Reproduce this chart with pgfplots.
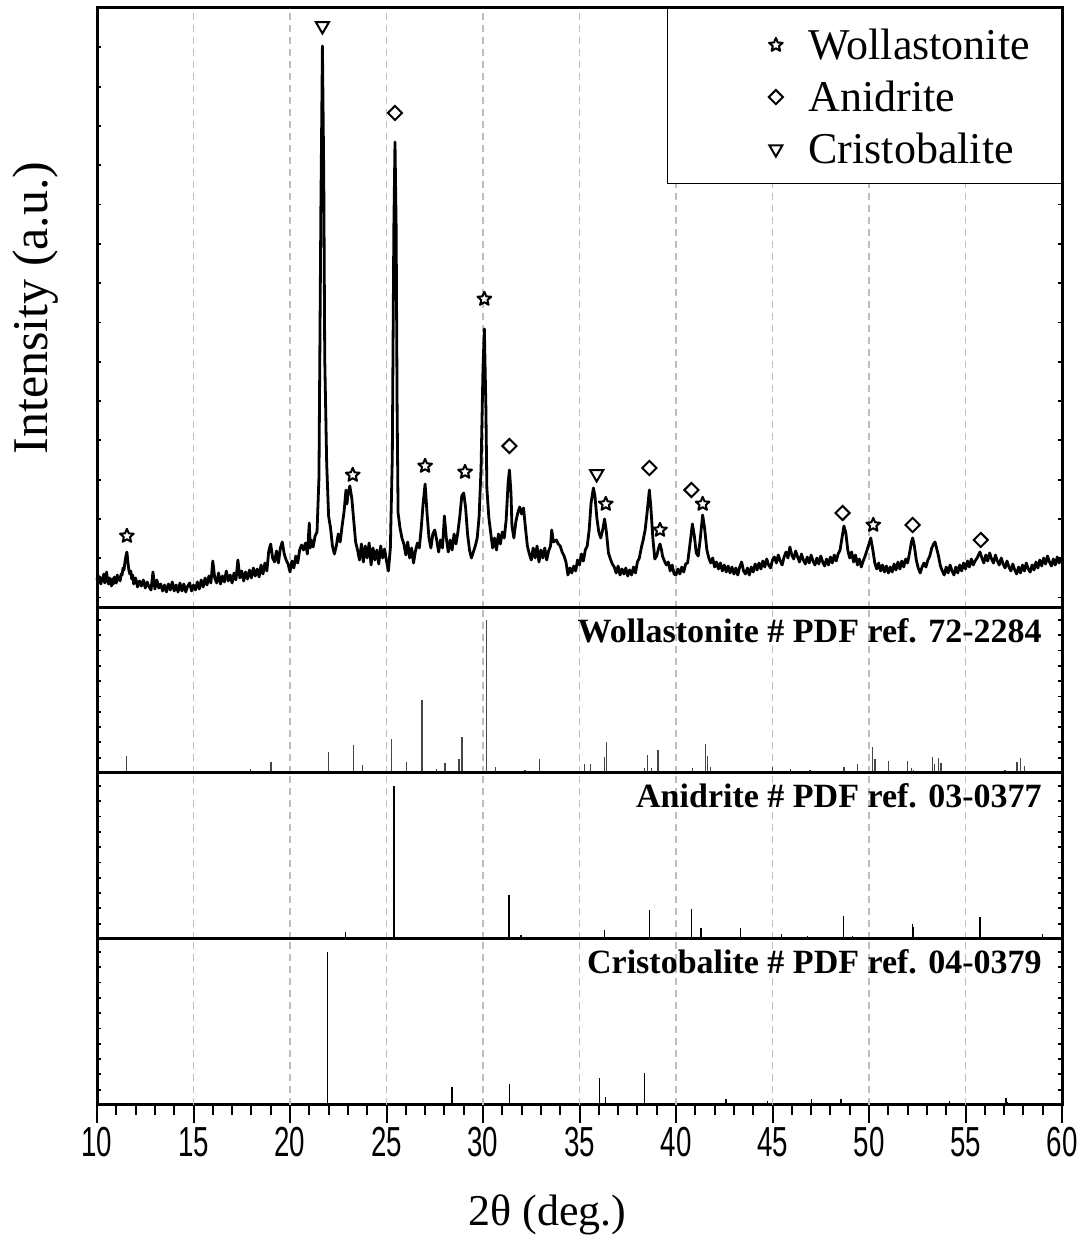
\documentclass[border=0pt]{standalone}
\usepackage{pgfplots}
\pgfplotsset{compat=1.18}
\usepackage{fontspec}
\setmainfont{Liberation Serif}
\newfontfamily\arialfont{Liberation Sans}
\usetikzlibrary{plotmarks}
\usepackage{graphicx}
\definecolor{gridgray}{RGB}{190,190,190}
\definecolor{stickgray}{RGB}{70,70,70}
\tikzset{lab/.style={anchor=north east, inner sep=0pt, font=\bfseries\fontsize{17}{20}\selectfont}}
\pgfdeclareplotmark{ostar}{%
  \pgfpathmoveto{\pgfpointpolar{90}{\pgfplotmarksize}}%
  \pgfpathlineto{\pgfpointpolar{126}{0.45\pgfplotmarksize}}%
  \pgfpathlineto{\pgfpointpolar{162}{\pgfplotmarksize}}%
  \pgfpathlineto{\pgfpointpolar{198}{0.45\pgfplotmarksize}}%
  \pgfpathlineto{\pgfpointpolar{234}{\pgfplotmarksize}}%
  \pgfpathlineto{\pgfpointpolar{270}{0.45\pgfplotmarksize}}%
  \pgfpathlineto{\pgfpointpolar{306}{\pgfplotmarksize}}%
  \pgfpathlineto{\pgfpointpolar{342}{0.45\pgfplotmarksize}}%
  \pgfpathlineto{\pgfpointpolar{18}{\pgfplotmarksize}}%
  \pgfpathlineto{\pgfpointpolar{54}{0.45\pgfplotmarksize}}%
  \pgfpathclose
  \pgfusepathqfillstroke
}

\begin{document}
\begin{tikzpicture}
\useasboundingbox (0,0) rectangle (542.5pt,620.5pt);
\pgfplotsset{
  panel/.style={
    scale only axis, width=482.5pt, xmin=10, xmax=60,
    anchor=south west,
    axis line style={line width=1.5pt, black},
    xtick=\empty,
    extra x ticks={15,20,25,30,35,40,45,50,55},
    extra x tick labels={},
    extra x tick style={grid=major, major tick length=0pt},
    major grid style={gridgray, line width=0.6pt, dash pattern=on 3.5pt off 2.5pt},
    tick align=inside, major tick length=2.2pt,
    ytick style={line width=0.9pt, black},
    yticklabels={},
    clip=false,
  },
  stick/.style={ycomb, line width=0.6pt, no marks},
}

% ---------------- main XRD panel ----------------
\begin{axis}[panel, at={(48.5pt,316.5pt)}, height=300pt,
  ymin=0, ymax=600,
  ytick={10.4,49.7,...,600},
  ylabel={Intensity (a.u.)},
  ylabel style={at={(axis description cs:-0.064,0.5)}, anchor=center, font=\fontsize{25}{29}\selectfont},
  legend style={at={(1,1)}, anchor=north east, draw=black, line width=0.7pt, fill=white,
    font=\fontsize{22}{26}\selectfont, inner xsep=8.7pt, inner ysep=4.7pt,
    nodes={inner xsep=7pt, inner ysep=2pt, text height=18.5pt, text depth=3.5pt}},
  legend cell align=left,
  legend image code/.code={\draw[#1] plot coordinates {(0pt,-0.5pt)}; \path (-45pt,0pt) (9pt,0pt);},
]
\addplot[only marks, mark=ostar, mark size=3.6pt, mark options={line width=1pt, line join=round, fill=white, draw=black}]
 coordinates {(11.55,72) (23.25,133) (27.0,142) (29.07,136) (30.07,309) (36.36,104) (39.17,78) (41.38,104) (50.22,83)};
\addlegendentry{Wollastonite}
\addplot[only marks, mark=square, mark size=2.5pt, mark options={rotate=45, line width=1pt, fill=white, draw=black}]
 coordinates {(25.44,495) (31.37,162) (38.62,140) (40.8,118) (48.63,95) (52.26,83) (55.79,68)};
\addlegendentry{Anidrite}
\addplot[only marks, mark=triangle, mark size=3.75pt, mark options={rotate=180, line width=1pt, fill=white, draw=black}]
 coordinates {(21.68,582) (35.89,134)};
\addlegendentry{Cristobalite}

\addplot[forget plot, black, line width=1.4pt, line join=round, no marks] coordinates {
(10.0,28) (10.05,33) (10.1,26) (10.15,31) (10.2,24) (10.25,30) (10.3,27) (10.35,34) (10.4,25) (10.45,31)
(10.5,36) (10.55,27) (10.6,24) (10.65,30) (10.7,27) (10.75,22) (10.8,29) (10.85,24) (10.9,31) (10.95,26)
(11.0,25) (11.05,33) (11.1,28) (11.15,31) (11.2,27) (11.25,34) (11.3,33) (11.35,40) (11.4,38) (11.45,46)
(11.5,52) (11.55,56) (11.6,46) (11.65,38) (11.7,34) (11.75,37) (11.8,29) (11.85,33)
(11.9,24) (12.0,30) (12.1,21) (12.2,27) (12.3,22) (12.4,28) (12.5,20) (12.6,26) (12.7,21) (12.8,18)
(12.9,36) (13.0,19) (13.1,28) (13.2,20) (13.3,24) (13.4,17) (13.5,23) (13.6,16) (13.7,24) (13.8,18)
(13.9,26) (14.0,17) (14.1,23) (14.2,16) (14.3,25) (14.4,17) (14.5,24) (14.6,16) (14.7,22) (14.8,25)
(14.9,17) (15.0,23) (15.1,18) (15.2,26) (15.3,19) (15.4,28) (15.5,21) (15.6,30) (15.7,23) (15.8,32)
(15.9,25) (16.0,47) (16.1,30) (16.2,25) (16.3,35) (16.4,24) (16.5,32) (16.6,26) (16.7,37) (16.8,27)
(16.9,33) (17.0,25) (17.1,35) (17.2,28) (17.3,48) (17.4,30) (17.5,37) (17.6,27) (17.7,36) (17.8,29)
(17.9,38) (18.0,30) (18.1,40) (18.2,32) (18.3,39) (18.4,31) (18.5,43) (18.6,34) (18.7,45) (18.8,37)
(18.9,57) (19.0,64) (19.1,50) (19.2,46) (19.3,57) (19.4,45) (19.5,60) (19.6,66) (19.7,54) (19.8,48)
(19.9,44) (20.0,36) (20.1,47) (20.2,40) (20.3,52) (20.4,45) (20.5,58) (20.6,63) (20.7,58) (20.8,65)
(20.9,54) (21.0,85) (21.05,60) (21.1,68) (21.2,61) (21.3,72) (21.4,76) (21.5,130) (21.6,400) (21.68,562)
(21.75,430) (21.8,250) (21.9,145) (22.0,92) (22.1,80) (22.2,62) (22.3,54) (22.4,62) (22.5,74) (22.6,66)
(22.7,82) (22.8,96) (22.9,118) (22.95,104) (23.0,113) (23.1,122) (23.2,110) (23.3,88) (23.4,66) (23.5,58)
(23.6,48) (23.7,64) (23.8,46) (23.9,62) (24.0,50) (24.1,65) (24.2,43) (24.3,60) (24.4,48) (24.5,58)
(24.6,44) (24.7,62) (24.8,50) (24.9,59) (25.0,47) (25.1,37) (25.2,60) (25.3,150) (25.38,380) (25.44,466)
(25.5,380) (25.55,200) (25.6,95) (25.7,80) (25.8,70) (25.9,64) (26.0,53) (26.1,66) (26.2,50) (26.3,60)
(26.4,45) (26.5,57) (26.6,65) (26.7,60) (26.8,80) (26.9,105) (27.0,124) (27.1,95) (27.2,70) (27.3,60)
(27.4,74) (27.5,78) (27.6,68) (27.7,56) (27.8,68) (27.9,60) (28.0,92) (28.1,70) (28.2,56) (28.3,68)
(28.4,58) (28.5,74) (28.6,64) (28.7,76) (28.8,92) (28.9,112) (29.0,115) (29.1,100) (29.2,74) (29.3,58)
(29.4,50) (29.5,56) (29.6,62) (29.7,70) (29.8,92) (29.9,140) (30.0,240) (30.07,279) (30.15,200) (30.2,120)
(30.3,91) (30.4,75) (30.5,60) (30.6,70) (30.7,58) (30.8,74) (30.9,64) (31.0,76) (31.1,70) (31.2,88)
(31.3,125) (31.37,138) (31.45,115) (31.5,82) (31.6,70) (31.7,86) (31.8,95) (31.9,101) (32.0,94) (32.1,100)
(32.2,80) (32.3,62) (32.4,54) (32.5,48) (32.6,60) (32.7,50) (32.8,62) (32.9,46) (33.0,58) (33.1,50)
(33.2,60) (33.3,48) (33.4,57) (33.5,62) (33.56,78) (33.65,66) (33.8,68) (33.9,64) (34.0,62) (34.1,56)
(34.2,52) (34.3,46) (34.4,33) (34.5,40) (34.6,35) (34.7,42) (34.8,37) (34.9,48) (35.0,43) (35.1,54)
(35.2,47) (35.3,58) (35.4,62) (35.5,78) (35.6,105) (35.72,120) (35.8,112) (35.9,90) (36.0,76) (36.1,70)
(36.2,78) (36.3,89) (36.4,75) (36.5,55) (36.6,49) (36.7,44) (36.8,41) (36.9,35) (37.0,42) (37.1,33)
(37.2,39) (37.3,34) (37.4,40) (37.5,32) (37.6,38) (37.7,33) (37.8,41) (37.9,35) (38.0,46) (38.1,50)
(38.2,60) (38.3,68) (38.4,78) (38.5,95) (38.62,118) (38.7,100) (38.8,70) (38.9,49) (39.0,52) (39.1,60)
(39.17,64) (39.25,58) (39.3,52) (39.4,47) (39.5,43) (39.6,46) (39.7,37) (39.8,43) (39.9,34) (40.0,33)
(40.1,39) (40.2,34) (40.3,41) (40.4,36) (40.5,44) (40.6,45) (40.7,60) (40.85,84) (40.95,72) (41.05,55)
(41.15,52) (41.25,68) (41.38,93) (41.48,80) (41.6,58) (41.7,50) (41.8,45) (41.9,50) (42.0,41) (42.1,46)
(42.2,39) (42.3,45) (42.4,37) (42.5,43) (42.6,36) (42.7,42) (42.8,35) (42.9,41) (43.0,34) (43.1,40)
(43.2,33) (43.3,41) (43.4,46) (43.5,37) (43.6,34) (43.7,40) (43.8,33) (43.9,41) (44.0,36) (44.1,44)
(44.2,38) (44.3,45) (44.4,39) (44.5,47) (44.6,41) (44.7,49) (44.8,43) (44.9,40) (45.0,48) (45.1,51)
(45.2,45) (45.3,53) (45.4,47) (45.5,43) (45.6,51) (45.7,56) (45.8,50) (45.9,61) (46.0,53) (46.1,49)
(46.2,57) (46.3,51) (46.4,46) (46.5,54) (46.6,48) (46.7,44) (46.8,51) (46.9,45) (47.0,53) (47.1,47)
(47.2,43) (47.3,50) (47.4,44) (47.5,52) (47.6,46) (47.7,42) (47.8,49) (47.9,43) (48.0,51) (48.1,45)
(48.2,53) (48.3,47) (48.4,54) (48.5,58) (48.6,70) (48.7,82) (48.8,75) (48.9,58) (49.0,50) (49.1,56)
(49.2,46) (49.3,53) (49.4,43) (49.5,49) (49.6,41) (49.7,47) (49.8,52) (49.9,58) (50.0,64) (50.09,70)
(50.2,58) (50.3,45) (50.4,39) (50.5,45) (50.6,37) (50.7,43) (50.8,36) (50.9,42) (51.0,35) (51.1,41)
(51.2,36) (51.3,44) (51.4,38) (51.5,46) (51.6,39) (51.7,47) (51.8,41) (51.9,49) (52.0,45) (52.1,55)
(52.2,66) (52.26,70) (52.35,62) (52.45,48) (52.55,40) (52.65,35) (52.75,41) (52.85,45) (52.95,41) (53.05,48)
(53.15,52) (53.25,60) (53.35,64) (53.42,66) (53.5,60) (53.6,52) (53.7,42) (53.8,37) (53.9,33) (54.0,41)
(54.1,35) (54.2,43) (54.3,37) (54.4,33) (54.5,41) (54.6,35) (54.7,43) (54.8,37) (54.9,45) (55.0,39)
(55.1,47) (55.2,41) (55.3,49) (55.4,43) (55.5,47) (55.6,50) (55.7,54) (55.75,56) (55.85,50) (55.95,45)
(56.05,53) (56.15,47) (56.25,55) (56.35,49) (56.45,45) (56.55,53) (56.65,47) (56.75,43) (56.85,50) (56.95,44)
(57.05,40) (57.15,47) (57.25,41) (57.35,37) (57.45,44) (57.55,38) (57.65,34) (57.75,41) (57.85,35) (57.95,43)
(58.05,37) (58.15,45) (58.25,39) (58.35,36) (58.45,43) (58.55,38) (58.65,46) (58.75,40) (58.85,48) (58.95,42)
(59.05,50) (59.15,44) (59.25,52) (59.35,46) (59.45,42) (59.55,49) (59.65,43) (59.75,51) (59.85,45) (59.95,50)
(60.0,47)
};
\end{axis}

% ---------------- Wollastonite reference ----------------
\begin{axis}[panel, at={(48.5pt,234pt)}, height=82.5pt,
  ymin=0, ymax=165, ytick={15.3,30.6,...,160}]
\addplot[stick, stickgray] coordinates {
(11.54,17.3) (12.54,1) (14.8,0.8) (17.95,4) (19.02,11) (20.1,0.8) (22.0,21) (23.28,28) (23.75,8)
(25.27,34) (26.03,11) (26.84,72.7) (27.60,4) (28.03,10) (28.62,2) (28.76,14) (28.91,36)
(30.19,153) (30.66,6) (32.18,3) (32.94,14) (34.6,1) (35.25,9) (35.58,9) (36.29,15.7) (36.41,31)
(37.9,1.5) (38.36,5) (38.52,17.7) (38.74,5) (39.07,23) (39.7,2) (40.2,1.5) (40.55,2)
(40.85,5) (41.54,29) (41.64,17) (41.79,6) (43.3,1.5) (44.99,6) (45.94,4) (46.94,3) (47.67,2)
(48.2,1.5) (48.70,6) (49.39,9) (50.19,26) (50.31,14) (50.75,2) (51.02,12) (51.6,1.5) (51.98,12)
(52.2,5) (52.32,3) (53.30,16) (53.39,9) (53.59,15) (53.73,10) (55.3,1.5) (57.05,3) (57.2,2)
(57.67,11) (57.86,15) (58.05,7) (58.9,2) (59.1,2) (59.3,1.5)
};
\node[lab] at (rel axis cs:1,1) [xshift=-10pt, yshift=-5pt] {Wollastonite \# PDF ref. 72-2284};
\end{axis}

% ---------------- Anidrite reference ----------------
\begin{axis}[panel, at={(48.5pt,151pt)}, height=83pt,
  ymin=0, ymax=166, ytick={15.3,30.6,...,160}]
\addplot[stick, black] coordinates {
(22.88,7.3) (25.39,153) (28.34,1.5) (31.35,44) (31.97,4) (36.29,9.3) (38.64,29) (40.81,30)
(41.30,11) (43.35,11) (45.46,5) (46.82,3) (48.69,23) (49.15,3) (52.26,15) (52.31,12)
(55.75,21.7) (57.80,2) (59.0,5)
};
\node[lab] at (rel axis cs:1,1) [xshift=-10pt, yshift=-5pt] {Anidrite \# PDF ref. 03-0377};
\end{axis}

% ---------------- Cristobalite reference ----------------
\begin{axis}[panel, at={(48.5pt,68pt)}, height=83pt,
  ymin=0, ymax=166, ytick={15.3,30.6,...,160}]
\addplot[stick, black] coordinates {
(21.95,152.7) (28.39,17.7) (31.38,21) (36.05,26.7) (36.36,8.3) (38.37,31.7) (42.59,5.7)
(44.75,4) (47.0,5.7) (48.55,5.7) (54.16,4) (57.10,7.3) (57.19,2.7)
};
\node[lab] at (rel axis cs:1,1) [xshift=-10pt, yshift=-5pt] {Cristobalite \# PDF ref. 04-0379};
\end{axis}

% ---------------- bottom x axis (ticks and labels) ----------------
\begin{axis}[scale only axis, width=482.5pt, height=83pt, at={(48.5pt,68pt)}, anchor=south west,
  xmin=10, xmax=60, ymin=0, ymax=1,
  axis line style={draw=none}, ytick=\empty, hide y axis,
  xtick={10,15,...,60}, minor x tick num=4, xtick pos=bottom,
  tick align=outside, major tick length=9pt, minor tick length=5pt,
  tick style={line width=1pt, black},
  xticklabel={\scalebox{0.66}[1]{\pgfmathprintnumber[assume math mode=true]{\tick}}},
  xticklabel style={font=\arialfont\fontsize{21}{22}\selectfont, inner sep=2pt},
  xlabel={2θ (deg.)},
  xlabel style={at={(axis description cs:0.467,-0.663)}, anchor=center, font=\fontsize{22}{26}\selectfont},
]
\end{axis}
\end{tikzpicture}
\end{document}
